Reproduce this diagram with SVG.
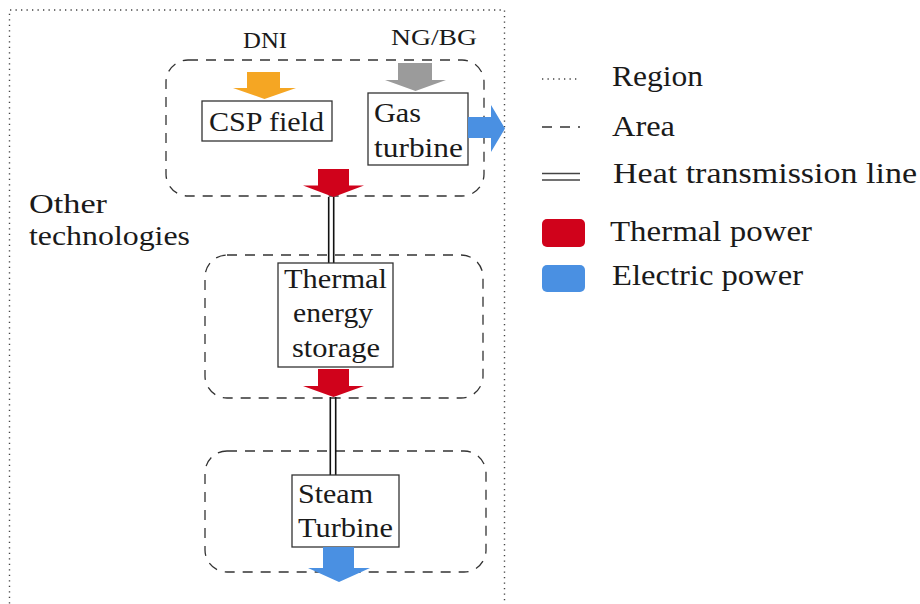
<svg xmlns="http://www.w3.org/2000/svg" width="920" height="604" viewBox="0 0 920 604">
<style>
text{font-family:"Liberation Serif","Times New Roman",serif;fill:#1a1a1a}
.s{font-size:24px}
.m{font-size:28px}
.l{font-size:29px}
.box{fill:#fff;stroke:#333;stroke-width:1.3}
.area{fill:none;stroke:#333;stroke-width:1.3;stroke-dasharray:10 8}
.region{fill:none;stroke:#444;stroke-width:1.4;stroke-dasharray:1.3 4.2}
.heat{stroke:#111;stroke-width:1.6;fill:none}
.red{fill:#D0021B}.blue{fill:#4A90E2}.orange{fill:#F5A623}.gray{fill:#9B9B9B}
</style>
<g id="region">
<path class="region" d="M9.5,620 V10 H504.5 V620"/>
<text class="m" x="29" y="213" textLength="78" lengthAdjust="spacingAndGlyphs">Other</text>
<text class="m" x="29" y="245" textLength="161" lengthAdjust="spacingAndGlyphs">technologies</text>
</g>
<g id="areas">
<rect class="area" x="166" y="60" width="318" height="136" rx="22"/>
<rect class="area" x="205" y="255" width="278" height="143" rx="22"/>
<rect class="area" x="205" y="451" width="281" height="121" rx="22"/>
</g>
<g id="connectors">
<path class="heat" d="M328.7,197 V263 M333.7,197 V263"/>
<path class="heat" d="M330.3,397 V475 M335.7,397 V475"/>
</g>
<g id="dni">
<text class="s" x="243" y="48" textLength="44" lengthAdjust="spacingAndGlyphs">DNI</text>
<polygon class="orange" points="247,72 280,72 280,88 296,88 264.5,99 233,88 247,88"/>
</g>
<g id="ngbg">
<text class="s" x="391" y="45" textLength="86" lengthAdjust="spacingAndGlyphs">NG/BG</text>
<polygon class="gray" points="398,63 432,63 432,80 446,80 415.5,91 385,80 398,80"/>
</g>
<g id="csp">
<rect class="box" x="202" y="101" width="130" height="40"/>
<text class="m" x="209" y="131" textLength="115" lengthAdjust="spacingAndGlyphs">CSP field</text>
</g>
<g id="gas">
<rect class="box" x="368" y="93" width="100" height="72"/>
<text class="m" x="374" y="122" textLength="47" lengthAdjust="spacingAndGlyphs">Gas</text>
<text class="m" x="374" y="157" textLength="89" lengthAdjust="spacingAndGlyphs">turbine</text>
<polygon class="blue" points="468,117 491,117 491,105 505,128.5 491,152 491,138 468,138"/>
</g>
<g id="heat1">
<polygon class="red" points="318,169 349,169 349,185.5 364,185.5 333.5,197 303,185.5 318,185.5"/>
</g>
<g id="tes">
<rect class="box" x="278" y="263" width="115" height="104"/>
<text class="m" x="284" y="288" textLength="103" lengthAdjust="spacingAndGlyphs">Thermal</text>
<text class="m" x="293" y="322" textLength="80" lengthAdjust="spacingAndGlyphs">energy</text>
<text class="m" x="292" y="357" textLength="88" lengthAdjust="spacingAndGlyphs">storage</text>
<polygon class="red" points="318,369 349,369 349,386 364,386 333.5,397 303,386 318,386"/>
</g>
<g id="steam">
<rect class="box" x="292" y="475" width="107" height="72"/>
<text class="m" x="298" y="503" textLength="75" lengthAdjust="spacingAndGlyphs">Steam</text>
<text class="m" x="298" y="537" textLength="95" lengthAdjust="spacingAndGlyphs">Turbine</text>
<polygon class="blue" points="323,547 354,547 354,568 370,568 339,582 308,568 323,568"/>
</g>
<g id="legend">
<path class="region" d="M542,79 H580"/>
<text class="l" x="612" y="86" textLength="91" lengthAdjust="spacingAndGlyphs">Region</text>
<path class="area" d="M542,127 H580"/>
<text class="l" x="612" y="136" textLength="63" lengthAdjust="spacingAndGlyphs">Area</text>
<path d="M542,173.5 H580 M542,180 H580" stroke="#444" stroke-width="1.3" fill="none"/>
<text class="l" x="613" y="183" textLength="304" lengthAdjust="spacingAndGlyphs">Heat transmission line</text>
<rect class="red" x="542" y="219" width="43" height="28" rx="5"/>
<text class="l" x="610" y="241" textLength="202" lengthAdjust="spacingAndGlyphs">Thermal power</text>
<rect class="blue" x="542" y="265" width="43" height="27" rx="5"/>
<text class="l" x="612" y="285" textLength="191" lengthAdjust="spacingAndGlyphs">Electric power</text>
</g>
</svg>
